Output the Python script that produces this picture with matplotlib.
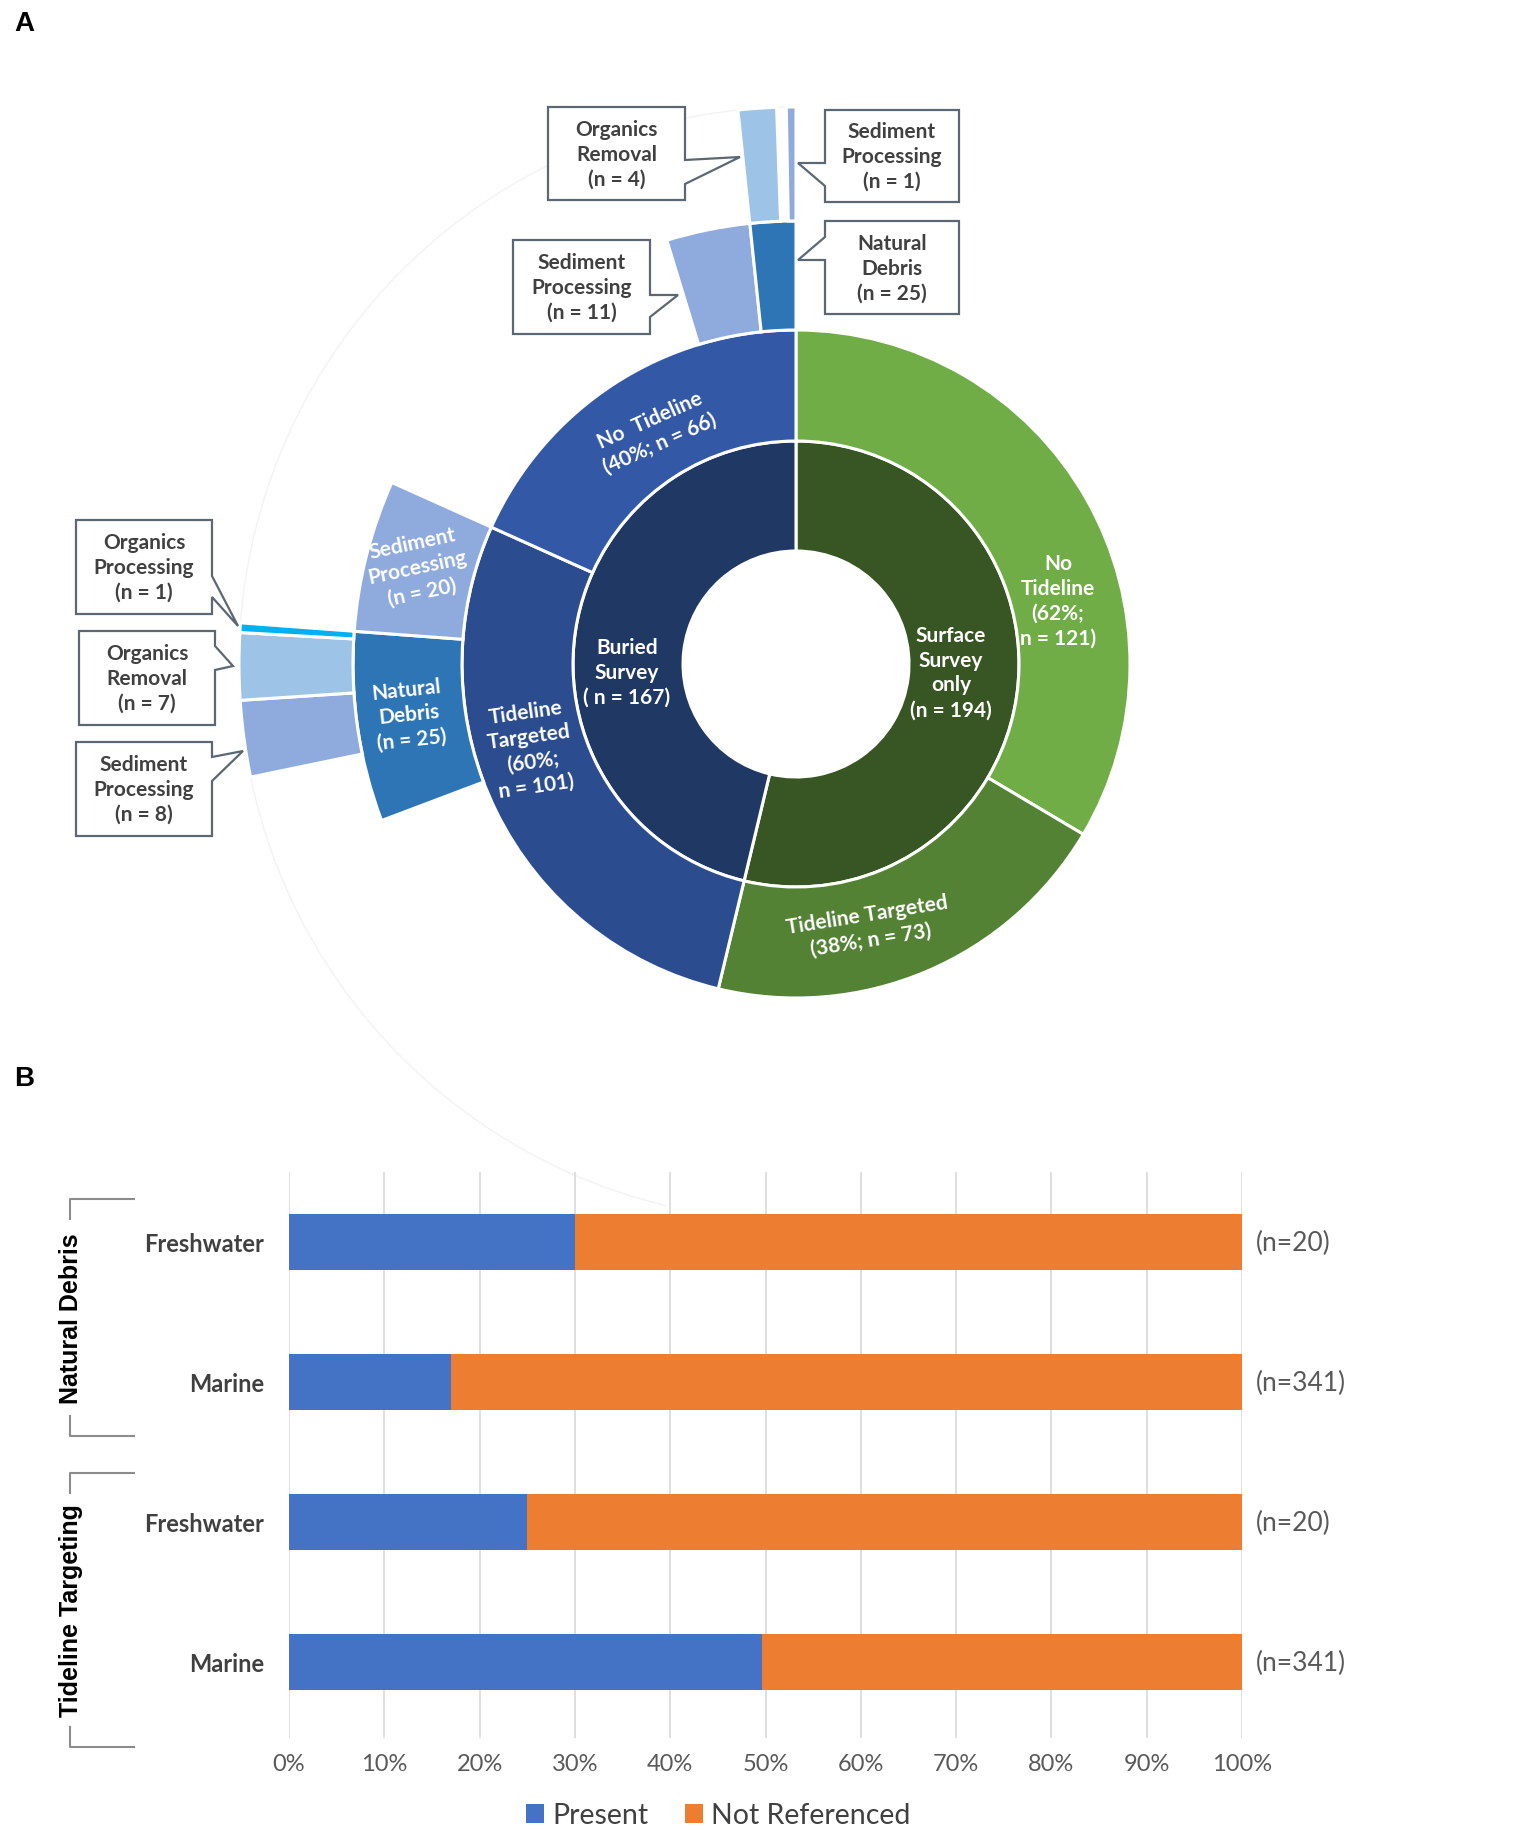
"""Two-panel figure: survey-method sunburst (A) and stacked % bars (B)."""

import matplotlib
matplotlib.use("Agg")
import matplotlib.pyplot as plt
from matplotlib.patches import Wedge, Polygon, Arc, Patch
import numpy as np

# --- data -------------------------------------------------------------
# sunburst rings, clockwise from 12 o'clock; "" marks a blank slot
ring1_labels = ["Surface Survey only", "Buried Survey"]
ring1_values = [194, 167]
ring2_labels = ["No Tideline", "Tideline Targeted", "Tideline Targeted", "No Tideline"]
ring2_values = [121, 73, 101, 66]
ring3_labels = ["", "", "Natural Debris", "Sediment Processing", "",
                "Sediment Processing", "Natural Debris"]
ring3_values = [194, 56, 25, 20, 49, 11, 6]
ring4_labels = ["", "", "Sediment Processing", "Organics Removal",
                "Organics Processing", "", "", "Organics Removal", "",
                "Sediment Processing"]
ring4_values = [250, 9, 8, 7, 1, 20, 60, 4, 1, 1]

# panel B
bar_labels = ["Freshwater", "Marine", "Freshwater", "Marine"]
present_pct = [30, 17, 25, 49.6]
not_ref_pct = [100 - p for p in present_pct]
n_labels = ["(n=20)", "(n=341)", "(n=20)", "(n=341)"]
group_names = ["Natural Debris", "Tideline Targeting"]

# --- styles -----------------------------------------------------------
ring1_colors = ["#375623", "#1F3864"]
ring2_colors = ["#70AD47", "#548235", "#2B4C8F", "#3358A6"]
leaf_colors = {"Natural Debris": "#2E75B6", "Sediment Processing": "#8FAADC",
               "Organics Removal": "#9DC3E6", "Organics Processing": "#00B0F0"}
FONT = "Lato"

W, H = 1535, 1831
fig = plt.figure(figsize=(W / 100, H / 100), dpi=100)

# overlay axes in pixel units (y down) for the sunburst and annotations
ov = fig.add_axes([0, 0, 1, 1])
ov.set_xlim(0, W)
ov.set_ylim(H, 0)
ov.axis("off")

cx, cy = 796, 665
radii = [113, 223, 334, 443, 557]
unit = 360.0 / sum(ring1_values)


def draw_ring(values, labels, colors, r_in, r_out):
    ends = np.cumsum(values) * unit
    starts = ends - np.array(values) * unit
    for s, e, lab, col in zip(starts, ends, labels, colors):
        if not lab:
            continue
        ov.add_patch(Wedge((cx, cy), r_out, s - 90, e - 90, width=r_out - r_in,
                           facecolor=col, edgecolor="white", lw=2.2))


# faint outline of the blank outer slots (as in the original export)
ov.add_patch(Arc((cx, cy), 2 * radii[4], 2 * radii[4],
                 theta1=ring1_values[0] * unit - 90, theta2=270,
                 color="#f3f3f3", lw=1))

draw_ring(ring1_values, ring1_labels, ring1_colors, radii[0], radii[1])
draw_ring(ring2_values, ring2_labels, ring2_colors, radii[1], radii[2])
draw_ring(ring3_values, ring3_labels,
          [leaf_colors.get(l, "white") for l in ring3_labels], radii[2], radii[3])
draw_ring(ring4_values, ring4_labels,
          [leaf_colors.get(l, "white") for l in ring4_labels], radii[3], radii[4])

# in-ring labels
ring_text = [
    (951, 673, "Surface\nSurvey\nonly\n(n = 194)", 0),
    (627, 673, "Buried\nSurvey\n( n = 167)", 0),
    (1058, 601, "No\nTideline\n(62%;\nn = 121)", 0),
    (869, 928, "Tideline Targeted\n(38%; n = 73)", 9),
    (531, 750, "Tideline\nTargeted\n(60%;\nn = 101)", 8),
    (655, 432, "No  Tideline\n(40%; n = 66)", 24),
    (417, 568, "Sediment\nProcessing\n(n = 20)", 12),
    (409, 715, "Natural\nDebris\n(n = 25)", 6),
]
for x, y, s, rot in ring_text:
    ov.text(x, y, s, ha="center", va="center", color="white", fontsize=15,
            fontweight="bold", family=FONT, rotation=rot, linespacing=1.3,
            rotation_mode="anchor")


def callout(x0, y0, x1, y1, side, b1, tip, b2, text):
    if side == "right":
        pts = [(x0, y0), (x1, y0), (x1, b1), tip, (x1, b2), (x1, y1), (x0, y1)]
    else:
        pts = [(x0, y0), (x1, y0), (x1, y1), (x0, y1), (x0, b2), tip, (x0, b1)]
    ov.add_patch(Polygon(pts, closed=True, facecolor="white",
                         edgecolor="#5B6874", lw=1.6, zorder=5))
    ov.text((x0 + x1) / 2, (y0 + y1) / 2, text, ha="center", va="center",
            color="#404040", fontsize=15, fontweight="bold", family=FONT,
            linespacing=1.3, zorder=6)


callout(548, 108, 685, 201, "right", 161, (740, 158), 185,
        "Organics\nRemoval\n(n = 4)")
callout(825, 111, 959, 203, "left", 164, (798, 164), 187,
        "Sediment\nProcessing\n(n = 1)")
callout(825, 222, 959, 315, "left", 238, (798, 261), 261,
        "Natural\nDebris\n(n = 25)")
callout(513, 241, 650, 335, "right", 296, (678, 296), 318,
        "Sediment\nProcessing\n(n = 11)")
callout(76, 521, 212, 615, "right", 577, (238, 627), 598,
        "Organics\nProcessing\n(n = 1)")
callout(79, 632, 215, 726, "right", 647, (233, 667), 671,
        "Organics\nRemoval\n(n = 7)")
callout(76, 743, 212, 837, "right", 758, (243, 752), 782,
        "Sediment\nProcessing\n(n = 8)")

# panel letters
for y, s in [(24, "A"), (1079, "B")]:
    ov.text(14, y, s, ha="left", va="center", fontsize=20, fontweight="bold",
            family="Liberation Sans")

# --- panel B ----------------------------------------------------------
ax = fig.add_axes([289 / W, 1 - 1739 / H, 953 / W, (1739 - 1173) / H])
ax.patch.set_alpha(0)
ypos = np.arange(len(bar_labels))
ax.barh(ypos, present_pct, height=0.4, color="#4472C4", label="Present", zorder=3)
ax.barh(ypos, not_ref_pct, left=present_pct, height=0.4, color="#ED7D31",
        label="Not Referenced", zorder=3)
ax.set_xlim(0, 100)
ax.set_ylim(3 + 76 / 140, -0.5)
ax.set_xticks(np.arange(0, 101, 10))
ax.set_xticklabels([f"{v}%" for v in range(0, 101, 10)])
ax.set_yticks(ypos)
ax.set_yticklabels(bar_labels)
ax.grid(axis="x", color="#D9D9D9", lw=1.2, zorder=0)
for sp in ax.spines.values():
    sp.set_visible(False)
ax.tick_params(axis="both", length=0)
ax.tick_params(axis="x", pad=11, labelsize=17, labelcolor="#595959")
ax.tick_params(axis="y", pad=18, labelsize=17, labelcolor="#404040")
for t in ax.get_xticklabels():
    t.set_family(FONT)
for t in ax.get_yticklabels():
    t.set_family(FONT)
    t.set_fontweight("bold")
for i, s in enumerate(n_labels):
    ax.annotate(s, xy=(100, i), xytext=(14, 0), textcoords="offset pixels",
                ha="left", va="center", fontsize=19, color="#595959",
                family=FONT, annotation_clip=False)

# group brackets on the left
brackets = [(1200, 1437), (1474, 1748)]
for (top, bot), name in zip(brackets, group_names):
    ov.plot([134, 70, 70], [top, top, top + 20], color="#8C8C8C", lw=1.5)
    ov.plot([134, 70, 70], [bot, bot, bot - 20], color="#8C8C8C", lw=1.5)
    ov.text(71, (top + bot) / 2, name, rotation=90, ha="center", va="center",
            fontsize=18, fontweight="bold", family="Liberation Sans")

handles = [Patch(facecolor="#4472C4", label="Present"),
           Patch(facecolor="#ED7D31", label="Not Referenced")]
fig.legend(handles=handles, loc="center", bbox_to_anchor=(0.468, 0.008),
           ncol=2, frameon=False, handlelength=0.62, handleheight=0.62,
           handletextpad=0.3, columnspacing=1.3,
           prop={"family": FONT, "size": 20.5}, labelcolor="#404040")

fig.savefig("out.png", dpi=100)
